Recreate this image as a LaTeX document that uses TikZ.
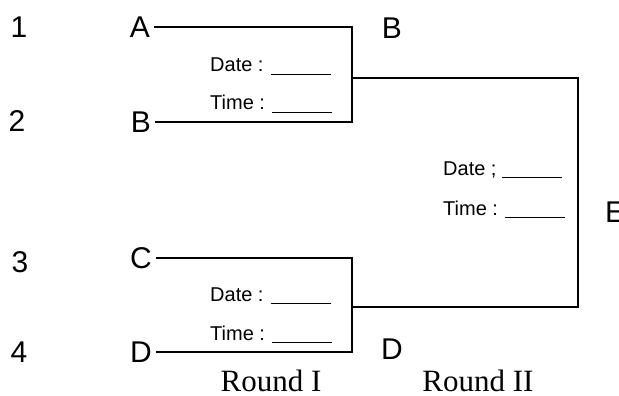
\documentclass[tikz,border=0pt]{standalone}
\usepackage{fontspec}
\setmainfont{Liberation Serif}
\setsansfont{Liberation Sans}
\usetikzlibrary{positioning}
\tikzset{
  % seed numbers on the far left
  seednum/.style={font=\sffamily\fontsize{30}{32}\selectfont, inner sep=0pt},
  % team letters
  team/.style={font=\sffamily\fontsize{30}{32}\selectfont, inner sep=4pt},
  % date / time slot under a match
  slot/.style={anchor=base west, inner sep=0pt, font=\sffamily\fontsize{20}{22}\selectfont},
  % round captions at the bottom
  roundcap/.style={anchor=base, inner sep=0pt, font=\rmfamily\fontsize{31}{34}\selectfont},
  % bracket lines
  bracket/.style={line width=1.5pt},
}
\newcommand{\blankslot}{\rule[-3pt]{60pt}{0.8pt}}

\begin{document}
\begin{tikzpicture}[x=1pt, y=-1pt]
    \useasboundingbox (0, 0) rectangle (619, 396);

    % Seeds
    \node[seednum] (s1) at (19, 27) {1};
    \node[seednum] (s2) at (17, 121) {2};
    \node[seednum] (s3) at (20, 262) {3};
    \node[seednum] (s4) at (19, 352) {4};

    % Round I teams
    \node[team] (tA) at (140, 27) {A};
    \node[team] (tB) at (141, 122) {B};
    \node[team] (tC) at (141, 258) {C};
    \node[team] (tD) at (141, 352) {D};

    % Joints of the brackets
    \coordinate (j1) at (352, 78);
    \coordinate (j2) at (352, 307);
    \coordinate (k1) at (578, 78);
    \coordinate (k2) at (578, 307);

    % Round I brackets
    \draw[bracket] (tA.east) -| (j1) |- (tB.east);
    \draw[bracket] (tC.east) -| (j2) |- (tD.east);

    % Round II bracket
    \draw[bracket] (j1) -- (k1) -- (k2) -- (j2);

    % Winners
    \node[team] (wB) at (392, 28) {B};
    \node[team] (wD) at (392, 349) {D};
    \node[team, anchor=west, inner sep=0pt] (wE) at (605, 212) {E};

    % Date / time slots
    \node[slot] (d1) at (210, 72) {Date : \blankslot};
    \node[slot] (h1) at (210, 110) {Time : \blankslot};
    \node[slot] (d2) at (210, 301) {Date : \blankslot};
    \node[slot] (h2) at (210, 340) {Time : \blankslot};
    \node[slot] (d3) at (443, 175) {Date ; \blankslot};
    \node[slot] (h3) at (443, 215) {Time : \blankslot};

    % Round captions
    \node[roundcap] (r1) at (271, 391) {Round I};
    \node[roundcap] (r2) at (478, 391) {Round II};
\end{tikzpicture}
\end{document}
